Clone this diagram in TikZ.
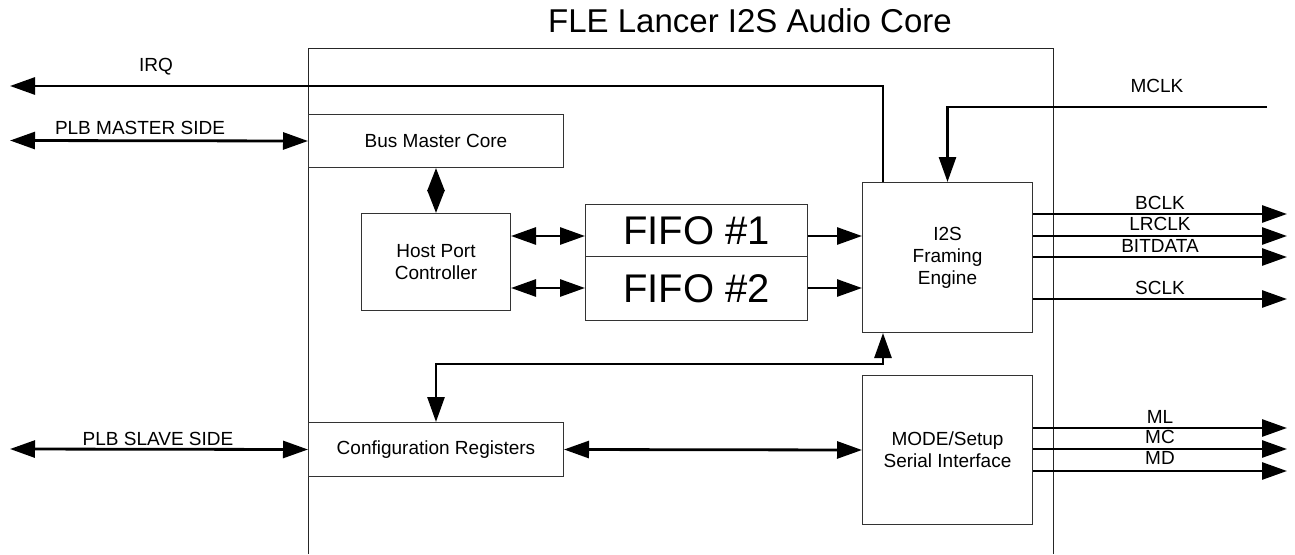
\documentclass[tikz,border=0pt]{standalone}
\usepackage{fontspec}
\setmainfont{Liberation Sans}
\usetikzlibrary{arrows.meta}
\begin{document}
\begin{tikzpicture}[x=1pt,y=-1pt,
  box/.style={draw=black!80, line width=1pt, anchor=north west, inner sep=0pt, align=center,
     font=\fontsize{19pt}{22pt}\selectfont},
  lbl/.style={anchor=base, inner sep=0pt, font=\fontsize{19pt}{22pt}\selectfont},
  sig/.style={line width=2.8pt, -{Triangle[length=25pt,width=17pt]}},
  dsig/.style={line width=2.8pt, {Triangle[length=25pt,width=17pt]}-{Triangle[length=25pt,width=17pt]}},
  frame/.style={line width=1pt, draw=black!85}]
\useasboundingbox (0,0) rectangle (1295,554);

% title and core frame
\node[anchor=base, inner sep=0pt, font=\fontsize{33pt}{38pt}\selectfont] (title) at (750,32) {FLE Lancer I2S Audio Core};
\draw[frame] (308,554) -- (308,48) -- (1053,48) -- (1053,554);

% blocks
\node[box, minimum width=255pt, minimum height=53pt] (bmc) at (308,114) {Bus Master Core};
\node[box, minimum width=149pt, minimum height=97pt] (hpc) at (361,213) {Host Port\\Controller};
\node[box, minimum width=222pt, minimum height=52pt, font=\fontsize{40pt}{44pt}\selectfont] (fifo1) at (585,204) {FIFO \#1};
\node[box, minimum width=222pt, minimum height=64pt, font=\fontsize{40pt}{44pt}\selectfont] (fifo2) at (585,256) {FIFO \#2};
\node[box, minimum width=170pt, minimum height=150pt] (i2s) at (862,182) {I2S\\Framing\\Engine};
\node[box, minimum width=255pt, minimum height=54pt] (cfg) at (308,422) {Configuration Registers};
\node[box, minimum width=170pt, minimum height=149pt] (mode) at (862,375) {MODE/Setup\\Serial Interface};

% helper coordinates
\coordinate (irqend) at (10,86);
\coordinate (pm) at (10,140.5);
\coordinate (ps) at (10,449);
\coordinate (mclkin) at (1267,107);
\coordinate (r1) at (0,236);
\coordinate (r2) at (0,288);
\coordinate (el) at (0,364);
\coordinate (ob) at (1287,214);
\coordinate (ol) at (1287,236);
\coordinate (od) at (1287,257);
\coordinate (os) at (1287,299);
\coordinate (oml) at (1287,428);
\coordinate (omc) at (1287,449);
\coordinate (omd) at (1287,471);
\coordinate (ix) at (883,0);

% connectors
\draw[sig] (i2s.north -| ix) |- (irqend);
\draw[dsig] (pm) -- (bmc.west);
\draw[sig] (mclkin) -| (i2s.north);
\draw[{Triangle[length=23pt,width=17pt]}-{Triangle[length=23pt,width=17pt]}, line width=2.8pt] (bmc.south) -- (hpc.north);
\draw[dsig] (hpc.east |- r1) -- (fifo1.west |- r1);
\draw[dsig] (hpc.east |- r2) -- (fifo2.west |- r2);
\draw[sig] (fifo1.east |- r1) -- (i2s.west |- r1);
\draw[sig] (fifo2.east |- r2) -- (i2s.west |- r2);
\draw[sig] (i2s.east |- ob) -- (ob);
\draw[sig] (i2s.east |- ol) -- (ol);
\draw[sig] (i2s.east |- od) -- (od);
\draw[sig] (i2s.east |- os) -- (os);
\draw[dsig] (cfg.north) -- (cfg.north |- el) -- (el -| ix) -- (i2s.south -| ix);
\draw[dsig] (ps) -- (cfg.west);
\draw[dsig] (cfg.east) -- (mode.west);
\draw[sig] (mode.east |- oml) -- (oml);
\draw[sig] (mode.east |- omc) -- (omc);
\draw[sig] (mode.east |- omd) -- (omd);

% labels
\node[lbl] (lirq) at (156,71) {IRQ};
\node[lbl] (lpm) at (140,134) {PLB MASTER SIDE};
\node[lbl] (lmclk) at (1157,92.6) {MCLK};
\node[lbl] (lps) at (158,445.6) {PLB SLAVE SIDE};
\node[lbl] (lb) at (1160,209) {BCLK};
\node[lbl] (llr) at (1160,230) {LRCLK};
\node[lbl] (lbd) at (1160,252) {BITDATA};
\node[lbl] (lsc) at (1160,294) {SCLK};
\node[lbl] (lml) at (1160,423) {ML};
\node[lbl] (lmc) at (1160,443) {MC};
\node[lbl] (lmd) at (1160,464) {MD};
\end{tikzpicture}
\end{document}
